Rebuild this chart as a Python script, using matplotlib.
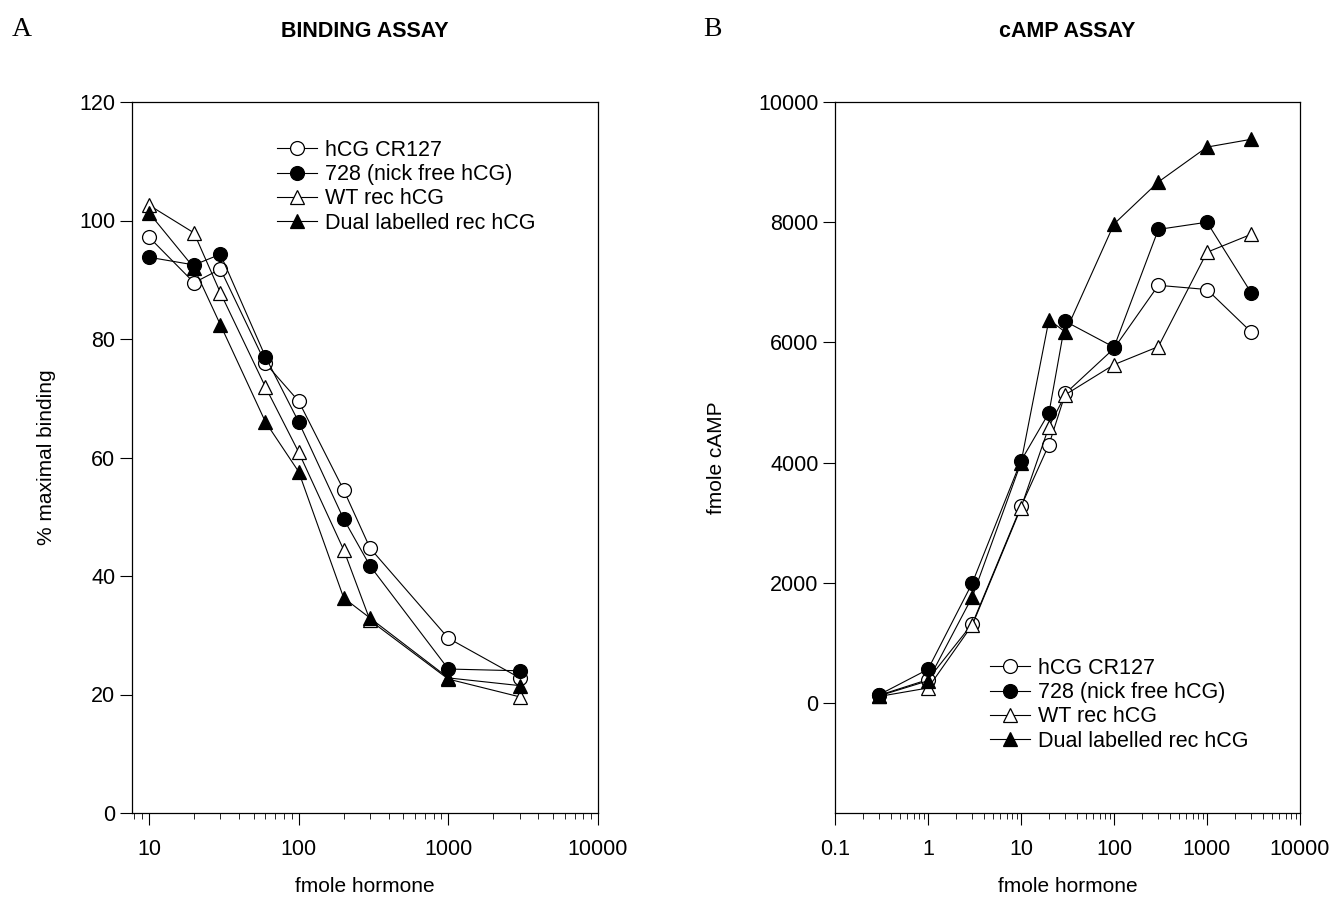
import numpy as np
import matplotlib.pyplot as plt
from matplotlib.ticker import LogLocator, NullFormatter, FixedLocator

plt.rcParams['font.family'] = ['Liberation Sans', 'DejaVu Sans']

labels = ['hCG CR127', '728 (nick free hCG)', 'WT rec hCG', 'Dual labelled rec hCG']

# binding assay (panel A)
bind_x = [10, 20, 30, 60, 100, 200, 300, 1000, 3000]
bind_cr127 = [97.2, 89.5, 91.8, 75.9, 69.5, 54.5, 44.7, 29.5, 22.8]
bind_728 = [93.8, 92.5, 94.3, 77.0, 66.0, 49.6, 41.7, 24.3, 24.0]
bind_wt = [102.6, 97.9, 87.8, 71.9, 60.9, 44.4, 32.5, 22.6, 19.6]
bind_dual = [101.3, 92.0, 82.4, 66.0, 57.6, 36.3, 32.9, 22.8, 21.5]

# cAMP assay (panel B)
camp_x = [0.3, 1, 3, 10, 20, 30, 100, 300, 1000, 3000]
camp_cr127 = [130, 390, 1320, 3270, 4300, 5150, 5900, 6950, 6880, 6170]
camp_728 = [140, 560, 2000, 4030, 4830, 6350, 5920, 7880, 8000, 6820]
camp_wt = [110, 250, 1300, 3250, 4600, 5130, 5630, 5930, 7500, 7800]
camp_dual = [120, 370, 1770, 4000, 6380, 6170, 7970, 8670, 9250, 9380]

styles = [
    dict(marker='o', mfc='white'),
    dict(marker='o', mfc='black'),
    dict(marker='^', mfc='white'),
    dict(marker='^', mfc='black'),
]

W, H = 1331, 898
fig = plt.figure(figsize=(W / 100, H / 100), dpi=100)

def box(x0, x1, ytop, ybot):
    return [x0 / W, 1 - ybot / H, (x1 - x0) / W, (ybot - ytop) / H]

axA = fig.add_axes(box(132, 598, 102, 813))
axB = fig.add_axes(box(835, 1300, 102, 813))

def draw(ax, x, series):
    for ys, lab, st in zip(series, labels, styles):
        ax.plot(x, ys, color='black', lw=0.8, ms=10, mec='black', mew=0.9,
                label=lab, **st)
    ax.set_xscale('log')
    for s in ax.spines.values():
        s.set_linewidth(0.9)
    ax.tick_params(axis='both', which='major', direction='out', labelsize=15.5,
                   width=0.8, length=8.4)
    ax.tick_params(axis='x', which='major', pad=10.5)
    ax.tick_params(axis='x', which='minor', direction='out', width=0.6, length=4.3)
    ax.xaxis.set_minor_locator(LogLocator(base=10, subs=np.arange(2, 10)))
    ax.xaxis.set_minor_formatter(NullFormatter())
    ax.set_xlabel('fmole hormone', fontsize=15, labelpad=12)

draw(axA, bind_x, [bind_cr127, bind_728, bind_wt, bind_dual])
axA.set_xlim(7.7, 10000)
axA.set_ylim(0, 120)
axA.set_yticks(range(0, 121, 20))
axA.xaxis.set_major_locator(FixedLocator([10, 100, 1000, 10000]))
axA.set_xticklabels(['10', '100', '1000', '10000'])
axA.set_ylabel('% maximal binding', fontsize=15, labelpad=17)
axA.set_title('BINDING ASSAY', fontsize=15.5, fontweight='bold', pad=47)

draw(axB, camp_x, [camp_cr127, camp_728, camp_wt, camp_dual])
axB.set_xlim(0.1, 10000)
axB.set_ylim(-1830, 10000)
axB.set_yticks(range(0, 10001, 2000))
axB.xaxis.set_major_locator(FixedLocator([0.1, 1, 10, 100, 1000, 10000]))
axB.set_xticklabels(['0.1', '1', '10', '100', '1000', '10000'])
axB.set_ylabel('fmole cAMP', fontsize=15, labelpad=23)
axB.set_title('cAMP ASSAY', fontsize=15.5, fontweight='bold', pad=47)

leg_kw = dict(frameon=False, fontsize=15.5, handlelength=1.85, handletextpad=0.38,
              labelspacing=0.15, borderpad=0, borderaxespad=0, loc='upper left')
axA.legend(bbox_to_anchor=(277 / W, 1 - 140 / H), bbox_transform=fig.transFigure, **leg_kw)
axB.legend(bbox_to_anchor=(990 / W, 1 - 658 / H), bbox_transform=fig.transFigure, **leg_kw)

fig.text(12 / W, 1 - 30 / H, 'A', fontsize=20, family='Liberation Serif', va='center')
fig.text(703 / W, 1 - 30 / H, 'B', fontsize=20, family='Liberation Serif', va='center')

plt.savefig('out.png', dpi=100)
